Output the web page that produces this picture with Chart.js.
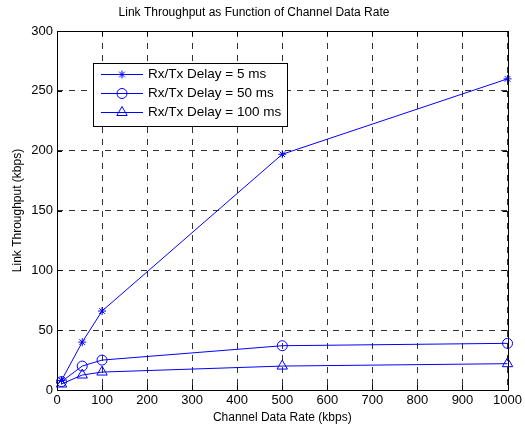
<!DOCTYPE html>
<html><head><meta charset="utf-8">
<script src="https://cdn.jsdelivr.net/npm/chart.js@4/dist/chart.umd.min.js"></script>
<style>html,body{margin:0;padding:0;background:#fff;}#wrap{width:525px;height:428px;}</style>
</head><body><div id="wrap"><canvas id="c" width="525" height="428"></canvas></div>
<script>
const rates = [10, 56, 100, 500, 1000];
const delay5 = [8, 40, 66, 197, 260];
const delay50 = [7, 20, 25, 37, 39];
const delay100 = [5, 12.5, 15, 20, 22];
const seriesLabels = ['Rx/Tx Delay = 5 ms', 'Rx/Tx Delay = 50 ms', 'Rx/Tx Delay = 100 ms'];
const xTicks = [0,100,200,300,400,500,600,700,800,900,1000];
const yTicks = [0,50,100,150,200,250,300];

const FONT = 'Liberation Sans, Arial, sans-serif';
const BLUE = '#0000FF';
function pts(ys){ return rates.map((x,i)=>({x:x,y:ys[i]})); }

const styles = [
  {pointStyle:'star', radius:4},
  {pointStyle:'circle', radius:5},
  {pointStyle:'triangle', radius:6}
];
const datasets = [delay5, delay50, delay100].map((d,i)=>({
  label: seriesLabels[i],
  data: pts(d),
  borderColor: BLUE,
  backgroundColor: 'rgba(0,0,0,0)',
  borderWidth: 1,
  pointStyle: styles[i].pointStyle,
  pointRadius: styles[i].radius,
  pointBorderColor: BLUE,
  pointBackgroundColor: 'rgba(0,0,0,0)',
  pointBorderWidth: 1,
  tension: 0,
  clip: false
}));

const framePlugin = {
  id: 'frame',
  afterDatasetsDraw(chart){
    const {ctx, chartArea:a, scales} = chart;
    ctx.save();
    ctx.strokeStyle = '#000'; ctx.lineWidth = 1; ctx.setLineDash([]);
    ctx.strokeRect(Math.round(a.left)+0.5, Math.round(a.top)+0.5, Math.round(a.right-a.left), Math.round(a.bottom-a.top));
    const tl = 5;
    ctx.beginPath();
    xTicks.forEach(v=>{
      const x = Math.round(scales.x.getPixelForValue(v))+0.5;
      ctx.moveTo(x, a.bottom); ctx.lineTo(x, a.bottom-tl);
      ctx.moveTo(x, a.top); ctx.lineTo(x, a.top+tl);
    });
    yTicks.forEach(v=>{
      const y = Math.round(scales.y.getPixelForValue(v))+0.5;
      ctx.moveTo(a.left, y); ctx.lineTo(a.left+tl, y);
      ctx.moveTo(a.right, y); ctx.lineTo(a.right-tl, y);
    });
    ctx.stroke();
    // legend box
    const bx = 93.5, by = 63.5, bw = 194, bh = 63;
    ctx.fillStyle = '#fff';
    ctx.fillRect(bx, by, bw, bh);
    ctx.strokeRect(bx, by, bw, bh);
    const rows = [74.5, 93.5, 112.5];
    chart.data.datasets.forEach((ds,i)=>{
      const y = rows[i];
      ctx.strokeStyle = BLUE; ctx.lineWidth = 1;
      ctx.beginPath(); ctx.moveTo(101, y); ctx.lineTo(143, y); ctx.stroke();
      ctx.fillStyle = 'rgba(0,0,0,0)';
      Chart.helpers.drawPoint(ctx, {pointStyle: ds.pointStyle, radius: ds.pointRadius, rotation:0, borderWidth:1}, 122, y);
      ctx.fillStyle = '#000';
      ctx.font = '13.5px ' + FONT;
      ctx.textBaseline = 'middle'; ctx.textAlign = 'left';
      ctx.fillText(ds.label, 148, y);
    });
    ctx.restore();
  }
};

new Chart(document.getElementById('c'), {
  type: 'line',
  data: { datasets },
  options: {
    responsive: false,
    animation: false,
    devicePixelRatio: 1,
    layout: { padding: { left: 0, right: 17, top: 0, bottom: 0 } },
    plugins: {
      legend: { display: false },
      tooltip: { enabled: false },
      title: {
        display: true,
        text: 'Link Throughput as Function of Channel Data Rate',
        color: '#000',
        font: { family: FONT, size: 12, weight: 'normal' },
        padding: { top: 5.5, bottom: 11.1 }
      }
    },
    scales: {
      x: {
        type: 'linear', min: 0, max: 1000,
        afterBuildTicks(s){ s.ticks = xTicks.map(v=>({value:v})); },
        afterFit(s){ s.height = 38; },
        ticks: { color: '#000', font: { family: FONT, size: 13 }, padding: 3, maxRotation: 0, autoSkip: false, callback: v => String(v) },
        grid: { color: '#333', lineWidth: 1, drawTicks: false },
        border: { display: false, dash: [6,6] },
        title: { display: true, text: 'Channel Data Rate (kbps)', color: '#000', font: { family: FONT, size: 12 }, padding: { top: 0, bottom: 3 } }
      },
      y: {
        type: 'linear', min: 0, max: 300,
        afterBuildTicks(s){ s.ticks = yTicks.map(v=>({value:v})); },
        afterFit(s){ s.width = 57; },
        ticks: { color: '#000', font: { family: FONT, size: 13 }, padding: 4, autoSkip: false, callback: v => String(v) },
        grid: { color: '#333', lineWidth: 1, drawTicks: false },
        border: { display: false, dash: [6,6] },
        title: { display: true, text: 'Link Throughput (kbps)', color: '#000', font: { family: FONT, size: 12 }, padding: { top: 10, bottom: 0 } }
      }
    }
  },
  plugins: [framePlugin]
});
</script></body></html>
